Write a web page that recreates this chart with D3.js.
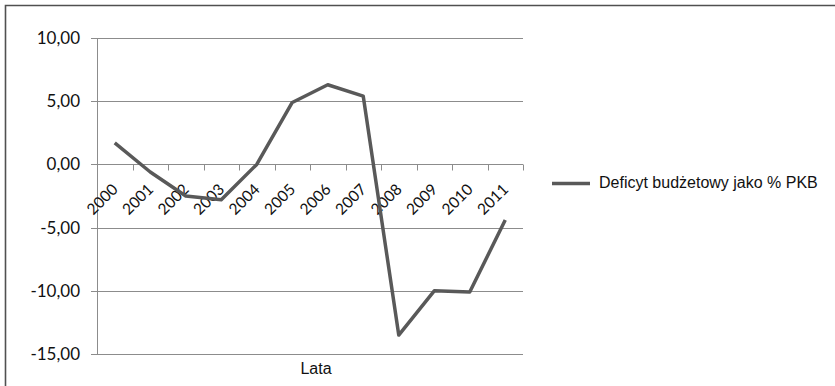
<!DOCTYPE html>
<html>
<head>
<meta charset="utf-8">
<script src="https://cdn.jsdelivr.net/npm/d3@7"></script>
<style>
  html, body { margin: 0; padding: 0; background: #fff; }
  svg { display: block; }
</style>
</head>
<body>
<svg id="chart" width="835" height="386"></svg>
<script>
// Budget balance as % of GDP, by year
const years = ["2000","2001","2002","2003","2004","2005","2006","2007","2008","2009","2010","2011"];
const deficit = [1.7, -0.6, -2.5, -2.8, 0.0, 4.9, 6.3, 5.4, -13.5, -10.0, -10.1, -4.4];
const yTicks = [10, 5, 0, -5, -10, -15];
const seriesName = "Deficyt budżetowy jako % PKB";
const xTitle = "Lata";

const W = 835, H = 386;
const plot = { left: 97, right: 523, top: 38, bottom: 354 };

const svg = d3.select("#chart");

// Polish number format: comma decimal, hyphen minus
const plLocale = d3.formatLocale({ decimal: ",", thousands: " ", grouping: [3], currency: ["", " zł"], minus: "-" });
const fmt = plLocale.format(".2f");

const x = d3.scaleBand().domain(years).range([plot.left, plot.right]).padding(0);
const y = d3.scaleLinear().domain([-15, 10]).range([plot.bottom, plot.top]);

// outer frame
svg.append("path")
  .attr("d", `M5.5,${H} V5.5 H${W}`)
  .attr("fill", "none")
  .attr("stroke", "#505050")
  .attr("stroke-width", 1.6);

// gridlines + y axis labels
const yAxis = d3.axisLeft(y)
  .tickValues(yTicks)
  .tickSize(0)
  .tickPadding(17)
  .tickFormat(fmt);

const gy = svg.append("g")
  .attr("transform", `translate(${plot.left},0)`)
  .call(yAxis);
gy.select(".domain").remove();
gy.selectAll("text")
  .attr("font-family", "Lato, 'Open Sans', sans-serif")
  .attr("font-size", 17)
  .attr("fill", "#111");

// horizontal gridlines
svg.append("g").selectAll("line")
  .data(yTicks)
  .join("line")
  .attr("x1", plot.left - 6).attr("x2", plot.right)
  .attr("y1", d => Math.round(y(d)) + 0.5).attr("y2", d => Math.round(y(d)) + 0.5)
  .attr("stroke", "#8c8c8c")
  .attr("stroke-width", 1);

// vertical axis line
svg.append("line")
  .attr("x1", plot.left + 0.5).attr("x2", plot.left + 0.5)
  .attr("y1", y(10)).attr("y2", y(-15))
  .attr("stroke", "#8c8c8c")
  .attr("stroke-width", 1);

// category tick marks on the zero line
const y0 = Math.round(y(0)) + 0.5;
const bounds = years.map(d => x(d)).concat([x(years[years.length - 1]) + x.bandwidth()]);
svg.append("g").selectAll("line")
  .data(bounds)
  .join("line")
  .attr("x1", d => Math.round(d) + 0.5).attr("x2", d => Math.round(d) + 0.5)
  .attr("y1", y0).attr("y2", y0 + 6)
  .attr("stroke", "#8c8c8c")
  .attr("stroke-width", 1);

// rotated category labels
svg.append("g").selectAll("text")
  .data(years)
  .join("text")
  .attr("transform", d => `translate(${x(d) + x.bandwidth() / 2 + 4},${y(0) + 26}) rotate(-45)`)
  .attr("text-anchor", "end")
  .attr("font-family", "Lato, 'Open Sans', sans-serif")
  .attr("font-size", 15.5)
  .attr("fill", "#111")
  .text(d => d);

// data line
const line = d3.line()
  .x((d, i) => x(years[i]) + x.bandwidth() / 2)
  .y(d => y(d));

svg.append("path")
  .datum(deficit)
  .attr("d", line)
  .attr("fill", "none")
  .attr("stroke", "#595959")
  .attr("stroke-width", 3.5)
  .attr("stroke-linejoin", "round");

// x axis title
svg.append("text")
  .attr("x", 316).attr("y", 374)
  .attr("text-anchor", "middle")
  .attr("font-family", "'Liberation Sans', Arial, sans-serif")
  .attr("font-size", 16)
  .attr("fill", "#111")
  .text(xTitle);

// legend
const lg = svg.append("g");
lg.append("line")
  .attr("x1", 552).attr("x2", 590)
  .attr("y1", 183.5).attr("y2", 183.5)
  .attr("stroke", "#595959")
  .attr("stroke-width", 3.5);
lg.append("text")
  .attr("x", 599).attr("y", 188)
  .attr("font-family", "'Liberation Sans', Arial, sans-serif")
  .attr("font-size", 16)
  .attr("fill", "#111")
  .text(seriesName);
</script>
</body>
</html>
